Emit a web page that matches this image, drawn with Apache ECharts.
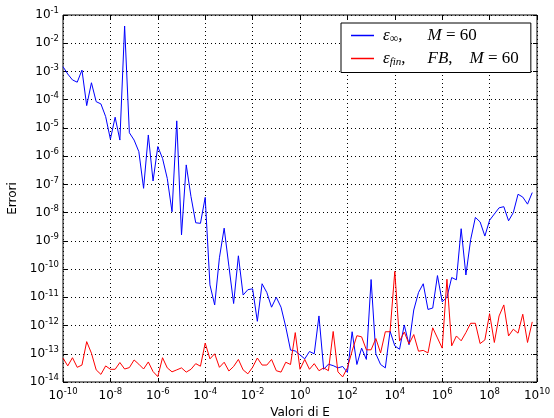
<!DOCTYPE html>
<html>
<head>
<meta charset="utf-8">
<script src="https://cdn.jsdelivr.net/npm/echarts@6/dist/echarts.min.js"></script>
<style>html,body{margin:0;padding:0;background:#fff}#c{width:554px;height:418px}</style>
</head>
<body>
<div id="c"></div>
<script>
// x positions: exponent of E (log10 E)
var xExp = [-10,-9.8,-9.6,-9.4,-9.2,-9,-8.8,-8.6,-8.4,-8.2,-8,-7.8,-7.6,-7.4,-7.2,-7,-6.8,-6.6,-6.4,-6.2,
-6,-5.8,-5.6,-5.4,-5.2,-5,-4.8,-4.6,-4.4,-4.2,-4,-3.8,-3.6,-3.4,-3.2,-3,-2.8,-2.6,-2.4,-2.2,
-2,-1.8,-1.6,-1.4,-1.2,-1,-0.8,-0.6,-0.4,-0.2,0,0.2,0.4,0.6,0.8,1,1.2,1.4,1.6,1.8,
2,2.2,2.4,2.6,2.8,3,3.2,3.4,3.6,3.8,4,4.2,4.4,4.6,4.8,5,5.2,5.4,5.6,5.8,
6,6.2,6.4,6.6,6.8,7,7.2,7.4,7.6,7.8,8,8.2,8.4,8.6,8.8,9,9.2,9.4,9.6,9.8];
// log10 of error
var infLog = [-2.83,-3.09,-3.30,-3.38,-2.95,-4.21,-3.40,-4.07,-4.15,-4.60,-5.40,-4.62,-5.43,-1.39,-5.17,-5.43,-5.84,-7.14,-5.25,-6.88,
-5.66,-6.08,-6.79,-7.97,-4.75,-8.79,-6.31,-7.43,-8.36,-8.38,-7.46,-10.56,-11.27,-9.60,-8.55,-9.90,-11.22,-9.53,-10.92,-10.73,
-10.70,-11.85,-10.52,-10.83,-11.35,-11.00,-11.35,-12.05,-12.87,-12.90,-13.04,-13.18,-12.92,-13.00,-11.66,-13.55,-13.37,-13.42,-13.50,-13.45,
-13.66,-12.22,-13.38,-12.80,-13.20,-10.37,-13.00,-13.38,-13.50,-12.20,-12.72,-12.84,-11.98,-12.68,-11.45,-10.83,-10.52,-11.43,-11.38,-10.23,
-11.16,-11.00,-10.30,-10.38,-8.57,-10.21,-8.96,-8.17,-8.33,-8.83,-8.27,-8.05,-7.83,-7.79,-8.29,-8.00,-7.35,-7.45,-7.70,-7.29];
var finLog = [-13.15,-13.43,-13.14,-13.48,-13.40,-12.57,-12.98,-13.57,-13.73,-13.43,-13.55,-13.55,-13.31,-13.54,-13.49,-13.22,-13.37,-13.54,-13.29,-13.63,
-13.81,-13.14,-13.50,-13.64,-13.57,-13.50,-13.65,-13.55,-13.35,-13.44,-12.62,-13.18,-13.00,-13.48,-13.30,-13.61,-13.45,-13.20,-13.57,-13.71,
-13.48,-13.15,-13.40,-13.40,-13.20,-13.60,-13.65,-13.30,-13.38,-12.25,-13.55,-13.20,-13.55,-13.35,-13.60,-13.50,-13.60,-12.21,-13.64,-13.82,
-13.50,-12.90,-12.36,-12.40,-12.86,-12.86,-12.46,-12.97,-12.22,-12.22,-10.08,-12.55,-12.23,-12.65,-12.32,-12.91,-12.88,-12.97,-12.08,-12.44,
-12.80,-10.36,-12.72,-12.37,-12.54,-12.25,-11.92,-11.92,-12.64,-12.51,-11.58,-12.60,-11.66,-11.27,-12.37,-12.13,-12.27,-11.60,-12.60,-11.87];
var xTickExp = [-10,-8,-6,-4,-2,0,2,4,6,8,10];
var yTickExp = [-14,-13,-12,-11,-10,-9,-8,-7,-6,-5,-4,-3,-2,-1];

function pairs(ys){ return xExp.map(function(e,i){ return [Math.pow(10,e), Math.pow(10,ys[i])]; }); }
function sup(v){
  var e = Math.round(Math.log10(v));
  return '{b|10}{s|' + e + '}';
}
var rich = {
  b:{fontFamily:'DejaVu Sans',fontSize:12,color:'#000'},
  s:{fontFamily:'DejaVu Sans',fontSize:8.5,color:'#000',padding:[0,0,8,0]}
};
var grid = {left:63,right:17,top:15,bottom:36,show:true,borderColor:'#000',borderWidth:1,backgroundColor:'#fff',outerBoundsMode:'none',containLabel:false};
var gridLine = {show:true,lineStyle:{color:'#000',width:1,type:[1,3]}};
function xAx(main){
  return {type:'log',logBase:10,min:1e-10,max:1e10,interval:2,position:main?'bottom':'top',
    axisLine:{show:false},
    axisTick:{show:true,inside:true,length:4,lineStyle:{color:'#000'}},
    axisLabel:{show:main,formatter:sup,rich:rich,margin:5},
    splitLine:main?gridLine:{show:false},
    name:main?'Valori di E':'',nameLocation:'middle',nameGap:23,
    nameTextStyle:{fontFamily:'DejaVu Sans',fontSize:12,color:'#000'}};
}
function yAx(main){
  return {type:'log',logBase:10,min:1e-14,max:1e-1,interval:1,position:main?'left':'right',
    axisLine:{show:false},
    axisTick:{show:true,inside:true,length:4,lineStyle:{color:'#000'}},
    axisLabel:{show:main,formatter:sup,rich:rich,margin:4},
    splitLine:main?gridLine:{show:false},
    name:main?'Errori':'',nameLocation:'middle',nameGap:44,
    nameTextStyle:{fontFamily:'DejaVu Sans',fontSize:12,color:'#000'}};
}
var F = 'Liberation Serif';
var lrich = {
  e:{fontFamily:F,fontStyle:'italic',fontSize:17,color:'#000',lineHeight:18,padding:[0,0,0,4]},
  sb:{fontFamily:F,fontSize:12,color:'#000',padding:[7,0,0,0]},
  si:{fontFamily:F,fontStyle:'italic',fontSize:11,color:'#000',padding:[7,0,0,0]},
  c:{fontFamily:F,fontSize:17,color:'#000'},
  g1:{width:25},
  g2:{width:22},
  g3:{width:17},
  r:{fontFamily:F,fontSize:17,color:'#000'},
  i:{fontFamily:F,fontStyle:'italic',fontSize:17,color:'#000'}
};
var chart = echarts.init(document.getElementById('c'),null,{renderer:'canvas'});
chart.setOption({
  animation:false,
  backgroundColor:'#fff',
  grid:grid,
  xAxis:[xAx(true),xAx(false)],
  yAxis:[yAx(true),yAx(false)],
  legend:{
    orient:'vertical',left:341,top:23,
    backgroundColor:'#fff',borderColor:'#000',borderWidth:1,borderRadius:0,
    padding:[4,12,5,10],itemGap:5,itemWidth:23,itemHeight:1.5,icon:'rect',
    formatter:function(n){
      if(n==='inf') return '{e|ε}{sb|∞}{c|,}{g1|}{i|M}{r| = 60}';
      return '{e|ε}{si|fin}{c|,}{g2|}{i|FB}{c|,}{g3|}{i|M}{r| = 60}';
    },
    textStyle:{rich:lrich}
  },
  series:[
    {name:'inf',type:'line',data:pairs(infLog),showSymbol:false,symbol:'none',color:'#0000ff',lineStyle:{width:1,color:'#0000ff'},z:3},
    {name:'fin',type:'line',data:pairs(finLog),showSymbol:false,symbol:'none',color:'#ff0000',lineStyle:{width:1,color:'#ff0000'},z:3}
  ]
});
</script>
</body>
</html>
